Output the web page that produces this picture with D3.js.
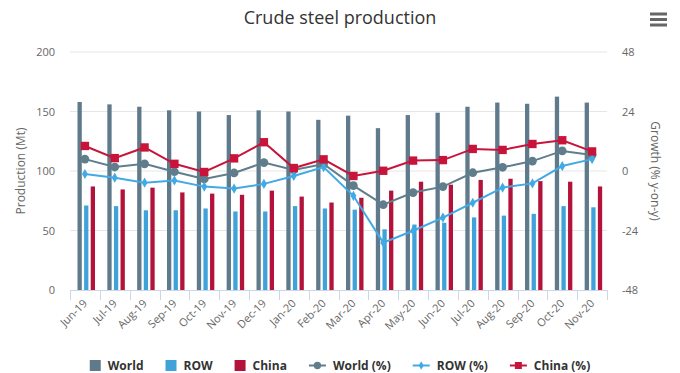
<!DOCTYPE html>
<html>
<head>
<meta charset="utf-8">
<script src="https://cdn.jsdelivr.net/npm/d3@7"></script>
<style>
  body { margin: 0; background: #fff; }
  svg { font-family: "Open Sans", "DejaVu Sans", sans-serif; display: block; }
</style>
</head>
<body>
<div id="chart"></div>
<script>
const months = ["Jun-19", "Jul-19", "Aug-19", "Sep-19", "Oct-19", "Nov-19", "Dec-19", "Jan-20", "Feb-20",
  "Mar-20", "Apr-20", "May-20", "Jun-20", "Jul-20", "Aug-20", "Sep-20", "Oct-20", "Nov-20"];

// production, Mt
const worldProd = [158, 156, 154, 151, 150, 147, 151, 150, 143, 146.5, 136, 147, 149, 154, 157.5, 156.5, 162.5, 157.5];
const rowProd   = [71, 70.5, 67, 67, 68.5, 66, 66, 70.5, 68.5, 67.5, 51, 55, 56.5, 61, 62.5, 64, 70.5, 69.5];
const chinaProd = [87, 84.5, 86, 82, 81, 80, 83.5, 78.5, 73.5, 77.5, 83.5, 91, 88.5, 92.5, 93.5, 91.5, 91, 87];

// growth, % y-on-y
const worldGrowth = [4.8, 1.6, 2.9, -0.3, -3.2, -0.8, 3.4, 0.4, 2.8, -5.9, -13.6, -8.7, -6.3, -0.7, 1.5, 4.0, 8.1, 6.5];
const rowGrowth   = [-1.2, -2.7, -4.7, -3.8, -6.3, -7.1, -5.2, -2.0, 1.6, -10, -28.9, -24.1, -18.8, -12.8, -6.7, -5.0, 2.0, 4.8];
const chinaGrowth = [10.1, 5.2, 9.5, 2.9, -0.4, 5.1, 11.6, 1.2, 4.7, -2.0, 0.1, 4.2, 4.4, 8.9, 8.5, 10.9, 12.4, 7.9];

const leftTicks = [0, 50, 100, 150, 200];
const rightTicks = [-48, -24, 0, 24, 48];

const width = 680, height = 373;
const margin = {top: 52, right: 73, bottom: 83, left: 70};
const innerW = width - margin.left - margin.right;
const innerH = height - margin.top - margin.bottom;

const svg = d3.select("#chart").append("svg")
  .attr("width", width)
  .attr("height", height);

// Title
svg.append("text")
  .attr("x", width / 2)
  .attr("y", 24)
  .attr("text-anchor", "middle")
  .style("font-size", "18px")
  .style("fill", "#333333")
  .text("Crude steel production");

// Menu icon
[14, 19.5, 25].forEach(function(y) {
  svg.append("rect")
    .attr("x", 650).attr("y", y - 1.5)
    .attr("width", 17).attr("height", 3)
    .attr("fill", "#666666");
});

const g = svg.append("g")
  .attr("transform", "translate(" + margin.left + "," + margin.top + ")");

// Scales
const x = d3.scaleBand().domain(months).range([0, innerW]);
const seriesNames = ["World", "ROW", "China"];
const x1 = d3.scaleBand().domain(seriesNames).range([7.5, 25]).paddingInner(0.35);
const yLeft = d3.scaleLinear().domain([0, 200]).range([innerH, 0]);
const yRight = d3.scaleLinear().domain([-48, 48]).range([innerH, 0]);

// Grid lines
g.selectAll(".grid")
  .data(leftTicks.slice(1))
  .enter().append("line")
  .attr("class", "grid")
  .attr("x1", 0).attr("x2", innerW)
  .attr("y1", d => yLeft(d)).attr("y2", d => yLeft(d))
  .attr("stroke", "#e6e6e6");

// Left axis labels
g.selectAll(".ly")
  .data(leftTicks)
  .enter().append("text")
  .attr("x", -15)
  .attr("y", d => yLeft(d) + 4)
  .attr("text-anchor", "end")
  .style("font-size", "11px")
  .style("fill", "#666666")
  .text(d => d);

// Right axis labels
g.selectAll(".ry")
  .data(rightTicks)
  .enter().append("text")
  .attr("x", innerW + 15)
  .attr("y", d => yRight(d) + 4)
  .attr("text-anchor", "start")
  .style("font-size", "11px")
  .style("fill", "#666666")
  .text(d => d);

// Axis titles
svg.append("text")
  .attr("transform", "translate(25," + (margin.top + innerH / 2) + ") rotate(-90)")
  .attr("text-anchor", "middle")
  .style("font-size", "12px")
  .style("fill", "#666666")
  .text("Production (Mt)");

svg.append("text")
  .attr("transform", "translate(651," + (margin.top + innerH / 2) + ") rotate(90)")
  .attr("text-anchor", "middle")
  .style("font-size", "12px")
  .style("fill", "#666666")
  .text("Growth (% y-on-y)");

// Bars
const barColors = {World: "#5f7a8b", ROW: "#3fa3da", China: "#b3123a"};
const barData = months.map((m, i) => ({
  month: m,
  values: [
    {key: "World", value: worldProd[i]},
    {key: "ROW", value: rowProd[i]},
    {key: "China", value: chinaProd[i]}
  ]
}));

const groups = g.selectAll(".grp")
  .data(barData)
  .enter().append("g")
  .attr("class", "grp")
  .attr("transform", d => "translate(" + x(d.month) + ",0)");

groups.selectAll("rect")
  .data(d => d.values)
  .enter().append("rect")
  .attr("x", d => x1(d.key))
  .attr("width", x1.bandwidth())
  .attr("y", d => yLeft(d.value))
  .attr("height", d => innerH - yLeft(d.value))
  .attr("fill", d => barColors[d.key]);

// X axis line and ticks
g.append("line")
  .attr("x1", 0).attr("x2", innerW)
  .attr("y1", innerH + 0.5).attr("y2", innerH + 0.5)
  .attr("stroke", "#ccd6eb");

g.selectAll(".xtick")
  .data(months.concat(["end"]))
  .enter().append("line")
  .attr("x1", (d, i) => Math.round(i * x.step()) + 0.5)
  .attr("x2", (d, i) => Math.round(i * x.step()) + 0.5)
  .attr("y1", innerH).attr("y2", innerH + 10)
  .attr("stroke", "#ccd6eb");

g.selectAll(".xl")
  .data(months)
  .enter().append("text")
  .attr("transform", d => "translate(" + (x(d) + x.bandwidth() / 2 + 3) + "," + (innerH + 14) + ") rotate(-45)")
  .attr("text-anchor", "end")
  .style("font-size", "11px")
  .style("fill", "#666666")
  .text(d => d);

// Growth lines
const lineSeries = [
  {name: "World (%)", values: worldGrowth, color: "#607d8b", symbol: "circle"},
  {name: "ROW (%)", values: rowGrowth, color: "#41aae6", symbol: "diamond"},
  {name: "China (%)", values: chinaGrowth, color: "#c8143a", symbol: "square"}
];

const line = d3.line()
  .x((d, i) => x(months[i]) + x.bandwidth() / 2)
  .y(d => yRight(d));

const symbolSizes = {circle: 60, diamond: 30, square: 70};
const symbolTypes = {circle: d3.symbolCircle, diamond: d3.symbolDiamond, square: d3.symbolSquare};

lineSeries.forEach(function(s) {
  g.append("path")
    .datum(s.values)
    .attr("d", line)
    .attr("fill", "none")
    .attr("stroke", s.color)
    .attr("stroke-width", 2);

  g.selectAll(".pt-" + s.symbol)
    .data(s.values)
    .enter().append("path")
    .attr("transform", (d, i) => "translate(" + (x(months[i]) + x.bandwidth() / 2) + "," + yRight(d) + ")")
    .attr("d", d3.symbol().type(symbolTypes[s.symbol]).size(symbolSizes[s.symbol]))
    .attr("fill", s.color);
});

// Legend
const legendItems = [
  {name: "World", color: barColors.World, type: "bar"},
  {name: "ROW", color: barColors.ROW, type: "bar"},
  {name: "China", color: barColors.China, type: "bar"}
].concat(lineSeries.map(s => ({name: s.name, color: s.color, type: "line", symbol: s.symbol})));

const legend = svg.append("g");
let lx = 0;
legendItems.forEach(function(item) {
  const li = legend.append("g").attr("transform", "translate(" + lx + ",0)");
  let symW;
  if (item.type === "bar") {
    li.append("rect")
      .attr("x", 0).attr("y", -10)
      .attr("width", 11).attr("height", 11)
      .attr("fill", item.color);
    symW = 11;
  } else {
    li.append("line")
      .attr("x1", 0).attr("x2", 17)
      .attr("y1", -4.5).attr("y2", -4.5)
      .attr("stroke", item.color)
      .attr("stroke-width", 2);
    li.append("path")
      .attr("transform", "translate(8.5,-4.5)")
      .attr("d", d3.symbol().type(symbolTypes[item.symbol]).size(symbolSizes[item.symbol] * 0.7))
      .attr("fill", item.color);
    symW = 17;
  }
  const t = li.append("text")
    .attr("x", symW + 7)
    .attr("y", 0)
    .style("font-size", "12px")
    .style("font-weight", "bold")
    .style("fill", "#333333")
    .text(item.name);
  lx += symW + 7 + t.node().getComputedTextLength() + 22;
});
lx -= 22;
legend.attr("transform", "translate(" + ((width - lx) / 2) + ",370)");
</script>
</body>
</html>
